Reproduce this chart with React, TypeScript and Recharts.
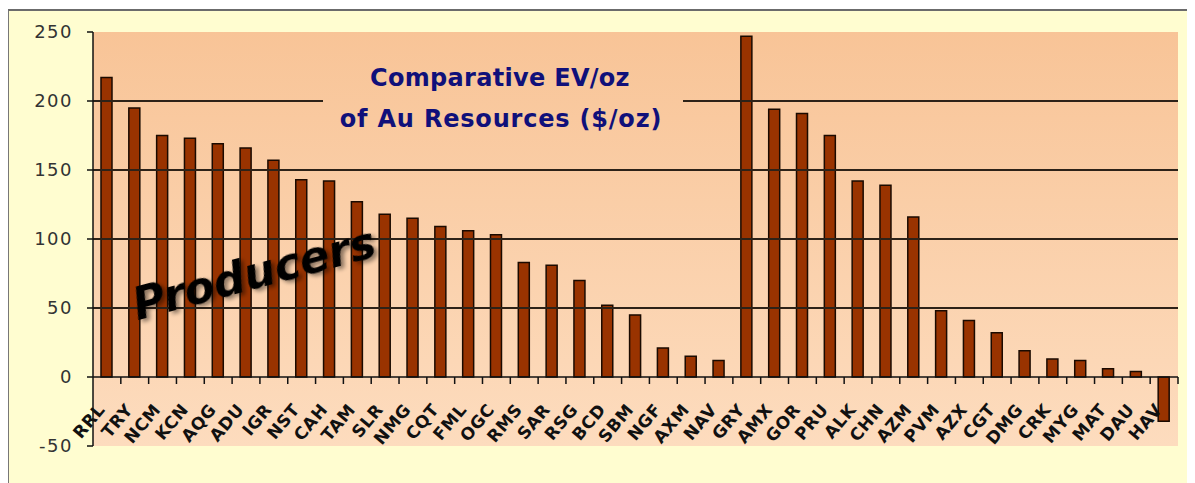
import React from "react";
import { BarChart, Bar, XAxis, YAxis, ReferenceLine, ReferenceArea } from "recharts";

const categories = ["RRL","TRY","NCM","KCN","AQG","ADU","IGR","NST","CAH","TAM","SLR","NMG","CQT","FML","OGC","RMS","SAR","RSG","BCD","SBM","NGF","AXM","NAV","GRY","AMX","GOR","PRU","ALK","CHN","AZM","PVM","AZX","CGT","DMG","CRK","MYG","MAT","DAU","HAV"];
const evPerOz = [217,195,175,173,169,166,157,143,142,127,118,115,109,106,103,83,81,70,52,45,21,15,12,247,194,191,175,142,139,116,48,41,32,19,13,12,6,4,-32];
const yTicks = [-50, 0, 50, 100, 150, 200, 250];
const gridValues = [50, 100, 150, 200];
const titleLines = ["Comparative EV/oz", "of Au Resources ($/oz)"];
const overlayLabel = "Producers";

const data = categories.map((c, i) => ({ name: c, value: evPerOz[i] }));

const W = 1185;
const H = 475;
const M = { top: 24, right: 15, bottom: 36, left: 0 };
const Y_AXIS_W = 85;
const X_AXIS_H = 1;
const Y_MIN = -50;
const Y_MAX = 250;
const PLOT_H = H - M.top - M.bottom - X_AXIS_H;
const PLOT_W = W - M.left - M.right - Y_AXIS_W;
const PLOT_TOP = M.top;
const PLOT_BOTTOM = M.top + PLOT_H;

const XTick = (props: any) => {
  const { x, y, payload } = props;
  const zeroY = y - (PLOT_H * (0 - Y_MIN)) / (Y_MAX - Y_MIN);
  const half = PLOT_W / categories.length / 2;
  return (
    <g>
      <line x1={x + half} x2={x + half} y1={zeroY} y2={zeroY + 7} stroke="#111" strokeWidth={1.5} />
      <text
        transform={`translate(${x - 1},${zeroY + 33}) rotate(-50)`}
        textAnchor="end"
        fontFamily="DejaVu Sans, Verdana, sans-serif"
        fontWeight="bold"
        fontSize={17}
        letterSpacing={0.6}
        fill="#111"
      >
        {payload.value}
      </text>
    </g>
  );
};

export default function App() {
  return (
    <div style={{ position: "relative", width: W, height: H }}>
      <div
        style={{
          position: "absolute",
          left: -1,
          top: 1,
          width: W + 2,
          height: H + 10,
          background: "#FFFDD0",
          borderTop: "2px solid #6b6b6b",
          borderLeft: "2px solid #777",
          boxSizing: "border-box",
        }}
      />
      <div style={{ position: "absolute", left: 0, top: 0 }}>
        <BarChart width={W} height={H} data={data} margin={M}>
          <defs>
            <linearGradient id="plotbg" gradientUnits="userSpaceOnUse" x1="0" y1={PLOT_TOP} x2="0" y2={PLOT_BOTTOM}>
              <stop offset="0%" stopColor="#F8C497" />
              <stop offset="100%" stopColor="#FDDCBE" />
            </linearGradient>
          </defs>
          <ReferenceArea y1={Y_MIN} y2={Y_MAX} fill="url(#plotbg)" fillOpacity={1} stroke="none" ifOverflow="extendDomain" />
          {gridValues.map((v) => (
            <ReferenceLine key={v} y={v} stroke="#2d2218" strokeWidth={2} />
          ))}
          <XAxis
            dataKey="name"
            height={X_AXIS_H}
            axisLine={false}
            tickLine={false}
            tickSize={0}
            tickMargin={0}
            interval={0}
            tick={<XTick />}
          />
          <YAxis
            width={Y_AXIS_W}
            domain={[Y_MIN, Y_MAX]}
            ticks={yTicks}
            interval={0}
            axisLine={{ stroke: "#111", strokeWidth: 1.5 }}
            tickLine={{ stroke: "#111", strokeWidth: 1.5 }}
            tickSize={6}
            tickMargin={14}
            tick={{ fill: "#333", fontSize: 18, fontFamily: "DejaVu Sans, Verdana, sans-serif", letterSpacing: 1.5 }}
          />
          <Bar dataKey="value" fill="#993300" stroke="#1a0a00" strokeWidth={1.5} barSize={11} isAnimationActive={false} />
          <ReferenceLine y={0} stroke="#111" strokeWidth={1.5} />
        </BarChart>
      </div>
      <svg
        width={W}
        height={H}
        style={{ position: "absolute", left: 0, top: 0, pointerEvents: "none" }}
      >
        <defs>
          <linearGradient id="plotbg2" gradientUnits="userSpaceOnUse" x1="0" y1={PLOT_TOP} x2="0" y2={PLOT_BOTTOM}>
            <stop offset="0%" stopColor="#F8C497" />
            <stop offset="100%" stopColor="#FDDCBE" />
          </linearGradient>
          <filter id="shadow" x="-10%" y="-30%" width="120%" height="160%">
            <feGaussianBlur in="SourceAlpha" stdDeviation="2" />
            <feOffset dx="3" dy="3" result="b" />
            <feComponentTransfer><feFuncA type="linear" slope="0.45" /></feComponentTransfer>
            <feMerge>
              <feMergeNode />
              <feMergeNode in="SourceGraphic" />
            </feMerge>
          </filter>
        </defs>
        <rect x={315} y={50} width={360} height={85} fill="url(#plotbg2)" />
        <text
          x={492}
          y={78}
          textAnchor="middle"
          fontFamily="DejaVu Sans, sans-serif"
          fontWeight="bold"
          fontSize={24}
          fill="#10107A"
          letterSpacing={0.3}
        >
          {titleLines[0]}
        </text>
        <text
          x={493}
          y={119}
          textAnchor="middle"
          fontFamily="DejaVu Sans, sans-serif"
          fontWeight="bold"
          fontSize={24}
          fill="#10107A"
          letterSpacing={0.8}
        >
          {titleLines[1]}
        </text>
        <text
          transform="translate(250,280) rotate(-15)"
          textAnchor="middle"
          fontFamily="DejaVu Sans, sans-serif"
          fontWeight="bold"
          fontStyle="italic"
          fontSize={44}
          fill="#000"
          filter="url(#shadow)"
        >
          {overlayLabel}
        </text>
      </svg>
    </div>
  );
}
